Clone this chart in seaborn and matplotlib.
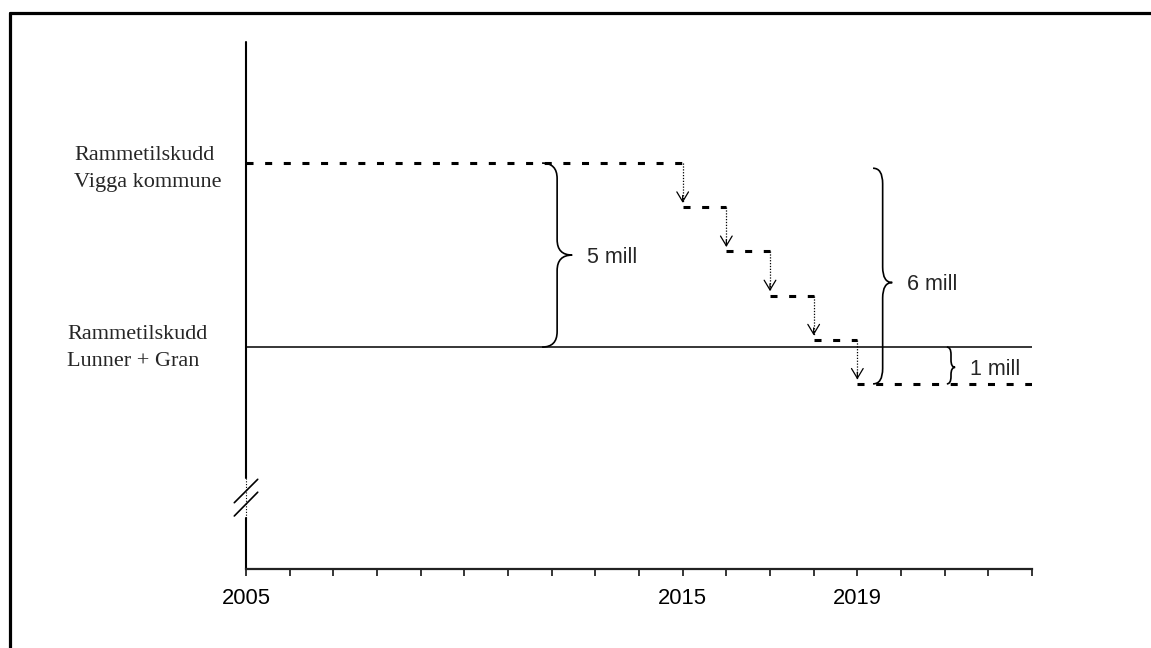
import pandas as pd
import seaborn as sns
import matplotlib.pyplot as plt
from matplotlib.path import Path
from matplotlib.patches import PathPatch
from matplotlib.lines import Line2D

# Years on the x axis
start_year = 2005
end_year = 2023
cut_years = [2015, 2016, 2017, 2018, 2019]
labelled_years = [2005, 2015, 2019]

# Frame grant levels in mill, relative to Lunner + Gran
vigga_levels = [5.0, 3.8, 2.6, 1.4, 0.2, -1.0]
lunner_gran_level = 0.0

# Braces: (label, top, bottom)
brace_labels = ['5 mill', '6 mill', '1 mill']
brace_tops = [5.0, 4.86, 0.0]
brace_bottoms = [0.0, -1.0, -1.0]

sns.set_theme(style='ticks')
plt.rcParams['font.family'] = ['Liberation Sans', 'DejaVu Sans']

# long-form table of the stepped dashed line, one unit per step
edges = [start_year] + cut_years + [end_year]
rows = []
for i, lev in enumerate(vigga_levels):
    rows.append({'year': edges[i], 'level': lev, 'seg': i})
    rows.append({'year': edges[i + 1], 'level': lev, 'seg': i})
df = pd.DataFrame(rows)
base = pd.DataFrame({'year': [start_year, end_year],
                     'level': [lunner_gran_level] * 2})

fig = plt.figure(figsize=(11.51, 6.48), dpi=100)
ax = fig.add_axes([0.21373, 0.12191, 0.68288, 0.81328])

sns.lineplot(data=df, x='year', y='level', units='seg', estimator=None,
             color='black', lw=2.2, linestyle=(0, (2.3, 3.8)), ax=ax)
sns.lineplot(data=base, x='year', y='level', color='black', lw=1.1, ax=ax)

# dotted drop arrows at each cut
for i, yr in enumerate(cut_years):
    top = vigga_levels[i]
    tip = vigga_levels[i + 1] + 0.12
    ax.plot([yr, yr], [top, tip], color='black', lw=0.9, ls=(0, (1, 1.3)))
    ax.annotate('', xy=(yr, tip), xytext=(yr, tip + 0.2),
                arrowprops=dict(arrowstyle='->,head_length=0.7,head_width=0.42',
                                lw=0.9, color='black', shrinkA=0, shrinkB=0,
                                mutation_scale=10))


def brace(x0, y0, y1, w, frac=0.5):
    r = min(0.42, (y0 - y1) / 5)
    xm = x0 + w / 2
    ym = y0 - (y0 - y1) * frac
    verts = [(x0, y0), (xm, y0), (xm, y0 - r),
             (xm, ym + r), (xm, ym), (x0 + w, ym),
             (xm, ym), (xm, ym - r),
             (xm, y1 + r), (xm, y1), (x0, y1)]
    codes = [Path.MOVETO, Path.CURVE3, Path.CURVE3,
             Path.LINETO, Path.CURVE3, Path.CURVE3,
             Path.CURVE3, Path.CURVE3,
             Path.LINETO, Path.CURVE3, Path.CURVE3]
    ax.add_patch(PathPatch(Path(verts, codes), fill=False, lw=1.2,
                           color='black', clip_on=False))
    return x0 + w, ym


brace_x = [2011.78, 2019.36, 2021.05]
brace_w = [0.69, 0.44, 0.19]
brace_frac = [0.5, 0.53, 0.55]
for lab, t, b, x0, w, f in zip(brace_labels, brace_tops, brace_bottoms,
                               brace_x, brace_w, brace_frac):
    tx, ty = brace(x0, t, b, w, f)
    ax.annotate(lab, xy=(tx, ty), xytext=(10.5, -5.5), textcoords='offset points',
                ha='left', va='baseline', fontsize=15.5)

ax.set_xlim(start_year, end_year)
ax.set_ylim(-6.03, 8.29)
ax.set_xticks(range(start_year, end_year + 1))
ax.set_xticklabels([str(y) if y in labelled_years else ''
                    for y in range(start_year, end_year + 1)])
ax.set_yticks([])
ax.set(xlabel='', ylabel='')
ax.tick_params(axis='x', direction='out', length=5, width=1.1,
               color='black', pad=9, labelsize=15.8, labelcolor='black')
for s in ['top', 'right', 'left']:
    ax.spines[s].set_visible(False)
ax.spines['bottom'].set_color('#222222')
ax.spines['bottom'].set_linewidth(1.6)

# y axis with a break
ax.axvline(start_year, ymin=0.1727, ymax=1, color='black', lw=1.5, clip_on=False)
ax.axvline(start_year, ymin=0, ymax=0.0968, color='black', lw=1.5, clip_on=False)
ax.plot([0, 0], [0.0968, 0.1727], transform=ax.transAxes, color='black',
        lw=0.8, ls=(0, (1, 1.5)), clip_on=False)
ax.plot([-0.0149, 0.0149], [0.1258, 0.1702], transform=ax.transAxes,
        color='black', lw=1.2, clip_on=False)
ax.plot([-0.0149, 0.0149], [0.1006, 0.1457], transform=ax.transAxes,
        color='black', lw=1.2, clip_on=False)

# left side labels
serif = ['Liberation Serif', 'DejaVu Serif']
fig.text(0.0643, 0.7531, 'Rammetilskudd', family=serif, fontsize=16)
fig.text(0.0643, 0.7114, 'Vigga kommune', family=serif, fontsize=16)
fig.text(0.0582, 0.4769, 'Rammetilskudd', family=serif, fontsize=16)
fig.text(0.0582, 0.4352, 'Lunner + Gran', family=serif, fontsize=16)

# frame on top and left
fig.add_artist(Line2D([0.0091, 1], [0.9804, 0.9804], transform=fig.transFigure,
                      color='black', lw=2.3))
fig.add_artist(Line2D([0.0091, 0.0091], [0, 0.9804], transform=fig.transFigure,
                      color='black', lw=2.3))

fig.savefig('out.png', dpi=100)
